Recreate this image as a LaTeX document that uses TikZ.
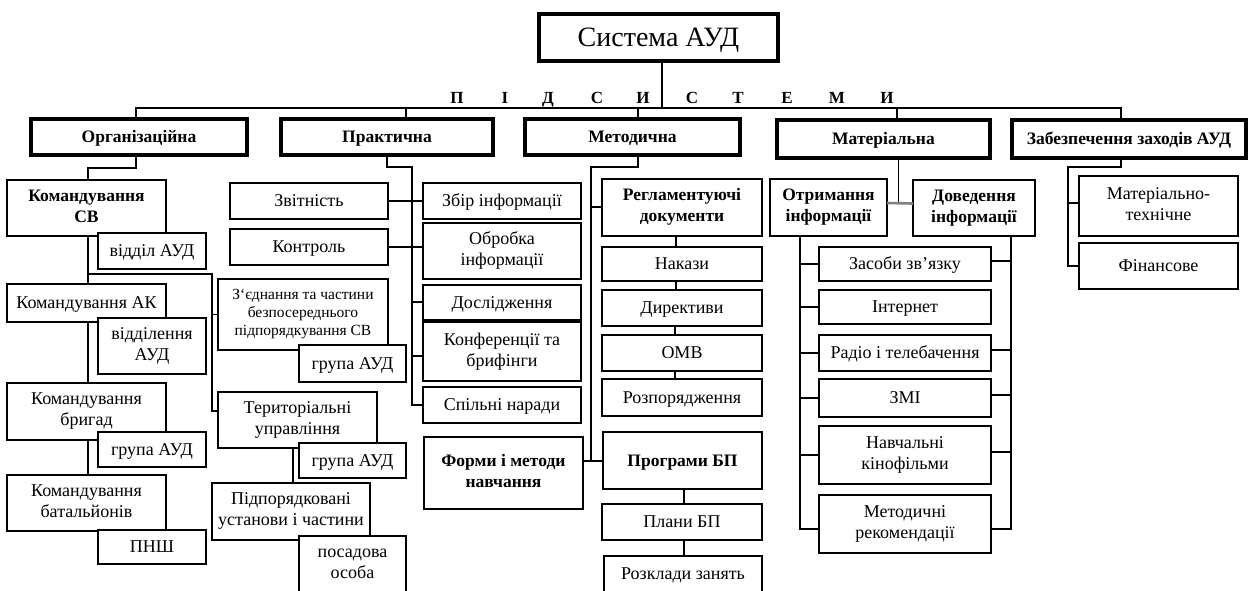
\documentclass[tikz,border=0pt]{standalone}
\usepackage{fontspec}
\setmainfont{Liberation Serif}
\newcommand\mybox[7][]{\node[bx,#1,minimum width={(#5-#3)*1pt},minimum height={(#6-#4)*1pt}] (#2) at ({(#3+#5)/2},{(#4+#6)/2}) {#7};}
\newcommand\mystrut{\rule[-0.25em]{0pt}{1.15em}}
\begin{document}
\begin{tikzpicture}[x=1pt,y=-1pt,
 bx/.style={draw,line width=1.8pt,fill=white,inner sep=0pt,outer sep=0pt,align=center,
   font=\fontsize{18}{21}\selectfont,execute at begin node=\mystrut,execute at end node=\mystrut},
 thk/.style={line width=4pt},
 bf/.style={font=\fontsize{17.5}{21}\selectfont\bfseries},
 sm/.style={font=\fontsize{15.5}{18}\selectfont},
 ln/.style={line width=1.8pt},
 letter/.style={font=\fontsize{17}{17}\selectfont\bfseries,inner sep=0pt,anchor=base}
]
\useasboundingbox (0,0) rectangle (1248,590);

% title
\mybox[thk,font=\fontsize{28}{32}\selectfont]{sys}{539}{14}{778}{61}{Система АУД}
\foreach \x/\l [count=\i] in {457/П,505/І,548/Д,597/С,643/И,692/С,738/Т,787/Е,837/М,887/И}
  \node[letter] (s\i) at (\x,103) {\l};

% level 1
\mybox[thk,bf]{org}{31}{119}{247}{155}{Організаційна}
\mybox[thk,bf]{prac}{281}{119}{493}{155}{Практична}
\mybox[thk,bf]{meth}{525}{119}{740}{155}{Методична}
\mybox[thk,bf]{mat}{777}{120}{990}{158}{Матеріальна}
\mybox[thk,bf]{zab}{1012}{120}{1246}{158}{Забезпечення заходів АУД}

% organisational column
\mybox[bf]{ksv}{7}{180}{166}{236}{Командування\\СВ}
\mybox{vad}{98}{233}{206}{269}{відділ АУД}
\mybox{kak}{7}{284}{166}{322}{Командування АК}
\mybox{vdl}{98}{318}{206}{374}{відділення\\АУД}
\mybox{kbr}{7}{383}{166}{440}{Командування\\бригад}
\mybox{gbr}{98}{432}{206}{467}{група АУД}
\mybox{kbt}{7}{475}{166}{531}{Командування\\батальйонів}
\mybox{pnsh}{98}{530}{206}{564}{ПНШ}

% practical column
\mybox{zvit}{230}{183}{388}{219}{Звітність}
\mybox{kontr}{230}{229}{388}{265}{Контроль}
\mybox[sm]{zed}{218}{279}{388}{350}{З`єднання та частини\\безпосереднього\\підпорядкування СВ}
\mybox{gz}{299}{345}{406}{382}{група АУД}
\mybox{ter}{218}{392}{377}{448}{Територіальні\\управління}
\mybox{gt}{299}{443}{406}{478}{група АУД}
\mybox{pidp}{212}{483}{370}{540}{Підпорядковані\\установи і частини}
\mybox{pos}{299}{536}{406}{596}{посадова\\особа}

\mybox{zbir}{423}{183}{581}{219}{Збір інформації}
\mybox{obr}{423}{223}{581}{279}{Обробка\\інформації}
\mybox{dosl}{423}{285}{581}{320}{Дослідження}
\mybox{konf}{423}{322}{581}{381}{Конференції та\\брифінги}
\mybox{spil}{423}{387}{581}{423}{Спільні наради}

% methodical column
\mybox[bf]{form}{424}{437}{583}{509}{Форми і методи\\навчання}
\mybox[bf]{regl}{602}{179}{762}{236}{Регламентуючі\\документи}
\mybox{nak}{602}{247}{762}{281}{Накази}
\mybox{dir}{602}{290}{762}{326}{Директиви}
\mybox{omv}{602}{335}{762}{371}{ОМВ}
\mybox{rozp}{602}{379}{762}{416}{Розпорядження}
\mybox[bf]{prog}{603}{432}{762}{489}{Програми БП}
\mybox{plan}{602}{504}{762}{540}{Плани БП}
\mybox{rozk}{604}{556}{762}{592}{Розклади занять}

% material column
\mybox[bf]{otr}{770}{179}{887}{236}{Отримання\\інформації}
\mybox[bf]{dov}{913}{180}{1035}{236}{Доведення\\інформації}
\mybox{zas}{819}{247}{991}{281}{Засоби зв’язку}
\mybox{int}{819}{290}{991}{324}{Інтернет}
\mybox{radio}{819}{335}{991}{371}{Радіо і телебачення}
\mybox{zmi}{819}{379}{991}{417}{ЗМІ}
\mybox{navch}{819}{426}{991}{484}{Навчальні\\кінофільми}
\mybox{metr}{819}{495}{991}{553}{Методичні\\рекомендації}

% support column
\mybox{mtech}{1079}{176}{1238}{236}{Матеріально-\\технічне}
\mybox{fin}{1079}{243}{1238}{289}{Фінансове}

% ---- connectors ----
\coordinate (bus) at (0,108);
\draw[ln] ([xshift=-3pt]org.north) -- ([xshift=-3pt]org.north |- bus) -| ([xshift=-8pt]zab.north);
\draw[ln] ([xshift=3.5pt]sys.south) -- ([xshift=3.5pt]sys.south |- bus);
\draw[ln] ([xshift=19pt]prac.north) -- ([xshift=19pt]prac.north |- bus);
\draw[ln] ([xshift=5.5pt]meth.north) -- ([xshift=5.5pt]meth.north |- bus);
\draw[ln] ([xshift=13.5pt]mat.north) -- ([xshift=13.5pt]mat.north |- bus);

% organisational
\coordinate (otop) at (0,168);
\draw[ln] ([xshift=-3pt]org.south) -- ([xshift=-3pt]org.south |- otop) -| ([xshift=1.5pt]ksv.north);
\draw[ln] ([xshift=1.5pt]ksv.south) -- ([xshift=1.5pt]kak.north);
\draw[ln] ([xshift=1.5pt]kak.south) -- ([xshift=1.5pt]kbr.north);
\draw[ln] ([xshift=1.5pt]kbr.south) -- ([xshift=1.5pt]kbt.north);
\coordinate (obus) at (212,274);
\draw[ln] ([xshift=1.5pt]ksv.south |- obus) -- (obus) |- ([yshift=9pt]ter.west);
\draw[ln] (obus |- zed.west) -- (zed.west);
\draw[ln] ([xshift=-4.5pt]ter.south) -- ([xshift=-4.5pt]ter.south |- pidp.north);

% practical
\coordinate (pb) at (412,167);
\draw[ln] (prac.south) |- (pb) |- (spil.west);
\draw[ln] (zvit.east) -- (zbir.west);
\draw[ln] (kontr.east) -- (kontr.east -| obr.west);
\draw[ln] ([yshift=0.5pt]pb |- dosl.west) -- ([yshift=0.5pt]dosl.west);
\draw[ln] ([yshift=-4.5pt]pb |- konf.west) -- ([yshift=-4.5pt]konf.west);

% methodical
\coordinate (mtop) at (591,167);
\draw[ln] ([xshift=5.5pt]meth.south) |- (mtop) -- (mtop |- prog.west);
\draw[ln] ([yshift=-0.5pt]form.east |- prog.west) -- ([yshift=-0.5pt]prog.west);
\draw[ln] ([yshift=0.5pt]mtop |- regl.west) -- ([yshift=0.5pt]regl.west);
\draw[ln] ([xshift=-6pt]regl.south) -- ([xshift=-6pt]regl.south |- nak.north);
\draw[ln] ([xshift=-6pt]nak.south) -- ([xshift=-6pt]nak.south |- dir.north);
\draw[ln] ([xshift=-7pt]dir.south) -- ([xshift=-7pt]dir.south |- omv.north);
\draw[ln] ([xshift=-7pt]omv.south) -- ([xshift=-7pt]omv.south |- rozp.north);
\draw[ln] ([xshift=1.5pt]prog.south) -- ([xshift=1.5pt]prog.south |- plan.north);
\draw[ln] ([xshift=2pt]plan.south) -- ([xshift=2pt]plan.south |- rozk.north);

% material
\draw[ln] ([xshift=15pt]mat.south) -- ([xshift=15pt,yshift=4.5pt]mat.south |- otr.east);
\draw[line width=2.6pt,gray] ([yshift=4.5pt]otr.east) -- ([yshift=4.5pt]dov.west);
\coordinate (lb) at (800,529);
\coordinate (rb) at (1011,529);
\draw[ln] (otr.south -| lb) -- (lb) -- (lb -| metr.west);
\draw[ln] (dov.south -| rb) -- (rb) -- (rb -| metr.east);
\foreach \n in {zas,int,radio,zmi,navch}
  \draw[ln] (lb |- \n.west) -- (\n.west);
\foreach \n in {zas,radio,zmi,navch}
  \draw[ln] ([yshift=3pt]\n.east) -- ([yshift=3pt]rb |- \n.east);

% support
\coordinate (zb) at (1068,167);
\draw[ln] ([xshift=-8pt]zab.south) |- (zb) |- (fin.west);
\draw[ln] ([yshift=3pt]zb |- mtech.west) -- ([yshift=3pt]mtech.west);
\end{tikzpicture}
\end{document}
